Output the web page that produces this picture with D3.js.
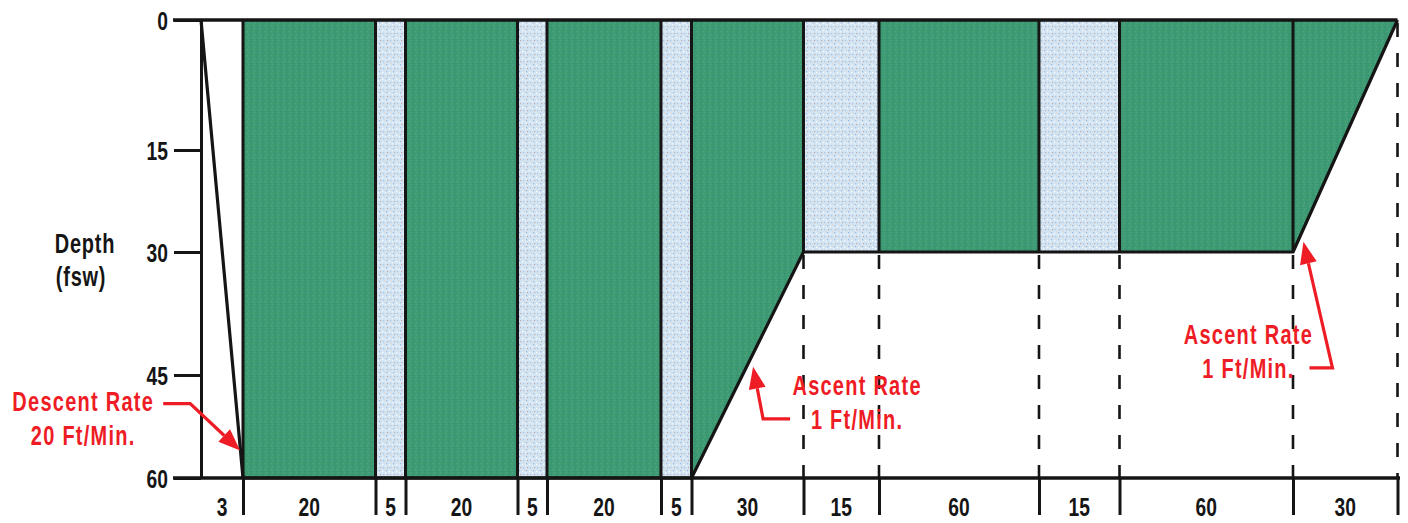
<!DOCTYPE html>
<html>
<head>
<meta charset="utf-8">
<script src="https://cdn.jsdelivr.net/npm/d3@7"></script>
<style>
  html, body { margin: 0; padding: 0; background: #fff; }
  svg { display: block; }
  text { font-family: "Liberation Sans", Arial, Helvetica, sans-serif; font-weight: bold; }
</style>
</head>
<body>
<svg id="chart" width="1408" height="523"></svg>
<script>
// ---------- data ----------
const segMinutes = [3, 20, 5, 20, 5, 20, 5, 30, 15, 60, 15, 60, 30];
const segGas     = ["descent", "oxygen", "air", "oxygen", "air", "oxygen", "air",
                    "oxygen", "air", "oxygen", "air", "oxygen", "oxygen"];
const profileTime  = [0, 3, 78, 108, 258, 288];
const profileDepth = [0, 60, 60, 30, 30, 0];
const depthTicks   = [0, 15, 30, 45, 60];
const axisTitle    = ["Depth", "(fsw)"];
const noteLines    = [["Descent Rate", "20 Ft/Min."],
                      ["Ascent Rate", "1 Ft/Min."],
                      ["Ascent Rate", "1 Ft/Min."]];
const noteTime     = [2.8, 94.5, 261];
const noteDepth    = [56, 44, 28.5];

// ---------- layout ----------
const cum = [0].concat(Array.from(d3.cumsum(segMinutes)));
const xBreaks = [201, 243, 375.5, 405.5, 517.5, 547, 661, 691.5, 803.5, 879, 1039, 1119.5, 1293, 1397.5];
const yBreaks = [20, 150, 252, 375, 478];
const x = d3.scaleLinear().domain(cum).range(xBreaks);
const y = d3.scaleLinear().domain(depthTicks).range(yBreaks);
const depthAt = d3.scaleLinear().domain(profileTime).range(profileDepth);

const GREEN = "#3e9a72", AIR = "#d3e4f2", INK = "#151515", RED = "#ee1c25";
const SX = 0.74;

const svg = d3.select("#chart");
const defs = svg.append("defs");

// stippled air pattern
const pa = defs.append("pattern").attr("id", "airPat").attr("patternUnits", "userSpaceOnUse")
  .attr("width", 7).attr("height", 7);
pa.append("rect").attr("width", 7).attr("height", 7).attr("fill", AIR);
[[1,1,"#9dbbe0"],[4,2,"#ffffff"],[2,5,"#c7a8a8"],[5,5,"#a9c4e6"],[6,0,"#e6d9c9"],[0,3,"#f4f8fc"]]
  .forEach(([cx, cy, c]) => pa.append("rect").attr("x", cx).attr("y", cy).attr("width", 1.2).attr("height", 1.2).attr("fill", c));

// speckled green pattern
const pg = defs.append("pattern").attr("id", "o2Pat").attr("patternUnits", "userSpaceOnUse")
  .attr("width", 6).attr("height", 6);
pg.append("rect").attr("width", 6).attr("height", 6).attr("fill", GREEN);
[[1,1,"#55aa7c"],[4,3,"#338e76"],[2,4,"#4ea38a"],[5,0,"#379369"]]
  .forEach(([cx, cy, c]) => pg.append("rect").attr("x", cx).attr("y", cy).attr("width", 1.3).attr("height", 1.3).attr("fill", c));

// ---------- segment fills ----------
const area = d3.area().x(t => x(t)).y0(y(0)).y1(t => y(depthAt(t)));
segMinutes.forEach((m, i) => {
  if (segGas[i] === "descent") return;
  svg.append("path")
    .attr("d", area([cum[i], cum[i + 1]]))
    .attr("fill", segGas[i] === "air" ? "url(#airPat)" : "url(#o2Pat)");
});

// ---------- boundary lines ----------
const inner = cum.slice(1, cum.length - 1);
svg.append("g").selectAll("line").data(inner).join("line")
  .attr("x1", t => x(t)).attr("x2", t => x(t))
  .attr("y1", y(0)).attr("y2", t => y(depthAt(t)))
  .attr("stroke", INK).attr("stroke-width", 3);

svg.append("g").selectAll("line").data(cum.slice(1).filter(t => depthAt(t) < 60)).join("line")
  .attr("x1", t => x(t)).attr("x2", t => x(t))
  .attr("y1", t => y(depthAt(t)) + 3).attr("y2", y(60))
  .attr("stroke", INK).attr("stroke-width", 2.6)
  .attr("stroke-dasharray", "14 16");

// ---------- profile ----------
const line = d3.line().x((d, i) => x(profileTime[i])).y(d => y(d));
svg.append("path").attr("d", line(profileDepth))
  .attr("fill", "none").attr("stroke", INK).attr("stroke-width", 3.2).attr("stroke-linejoin", "round");

// top surface line
svg.append("line").attr("x1", 173).attr("x2", x(cum[cum.length - 1]))
  .attr("y1", y(0)).attr("y2", y(0)).attr("stroke", INK).attr("stroke-width", 3.4);

// ---------- y axis ----------
const yAxis = d3.axisLeft(y).tickValues(depthTicks).tickSize(27).tickSizeOuter(0).tickFormat("");
const gy = svg.append("g").attr("transform", `translate(${x(0)},0)`).call(yAxis);
gy.selectAll("path, line").attr("stroke", INK).attr("stroke-width", 3);

function label(str, px, py, opts = {}) {
  const t = svg.append("text")
    .attr("transform", `translate(${px},${py}) scale(${SX},1)`)
    .attr("text-anchor", opts.anchor || "middle")
    .attr("font-size", opts.size || 26)
    .attr("fill", opts.fill || INK)
    .text(str);
  if (opts.spacing) t.attr("letter-spacing", opts.spacing);
  return t;
}
depthTicks.forEach(d => label(String(d), 168, y(d) + 9.5, { anchor: "end", size: 26 }));
label(axisTitle[0], 85, 253, { size: 27, spacing: 1 });
label(axisTitle[1], 81, 286, { size: 27, spacing: 1 });

// ---------- x axis ----------
const xAxis = d3.axisBottom(x).tickValues(cum.slice(1)).tickSize(37).tickSizeOuter(0).tickFormat("");
const gx = svg.append("g").attr("transform", `translate(0,${y(60)})`).call(xAxis);
gx.select(".domain").remove();
gx.selectAll("line").attr("stroke", INK).attr("stroke-width", 3);
svg.append("line").attr("x1", 173).attr("x2", 1400).attr("y1", y(60)).attr("y2", y(60))
  .attr("stroke", INK).attr("stroke-width", 3.4);

segMinutes.forEach((m, i) => {
  label(String(m), (x(cum[i]) + x(cum[i + 1])) / 2, 516, { size: 26 });
});

// ---------- annotations ----------
const noteLayout = [
  { text: [-157, -40], start: [-77, -47], elbow: [-50, -47] },
  { text: [104, 28],   start: [37, 52],   elbow: [10, 52] },
  { text: [-55, 102],  start: [6, 126],   elbow: [29, 126] }
];
noteLines.forEach((lines, i) => {
  const tx = x(noteTime[i]), ty = y(noteDepth[i]);
  const L = noteLayout[i];
  label(lines[0], tx + L.text[0], ty + L.text[1], { size: 27, fill: RED, spacing: 1.7 });
  label(lines[1], tx + L.text[0], ty + L.text[1] + 34, { size: 27, fill: RED, spacing: 1.7 });
  const pts = [[tx + L.start[0], ty + L.start[1]], [tx + L.elbow[0], ty + L.elbow[1]], [tx, ty]];
  const ex = pts[1][0], ey = pts[1][1];
  const ang = Math.atan2(ty - ey, tx - ex);
  const hl = 22, hw = 8.5;
  const bx = tx - hl * Math.cos(ang), by = ty - hl * Math.sin(ang);
  svg.append("path")
    .attr("d", d3.line()([pts[0], pts[1], [bx, by]]))
    .attr("fill", "none").attr("stroke", RED).attr("stroke-width", 3.2);
  svg.append("path")
    .attr("d", d3.line()([[tx, ty],
      [bx + hw * Math.sin(ang), by - hw * Math.cos(ang)],
      [bx - hw * Math.sin(ang), by + hw * Math.cos(ang)]]) + "Z")
    .attr("fill", RED);
});
</script>
</body>
</html>
